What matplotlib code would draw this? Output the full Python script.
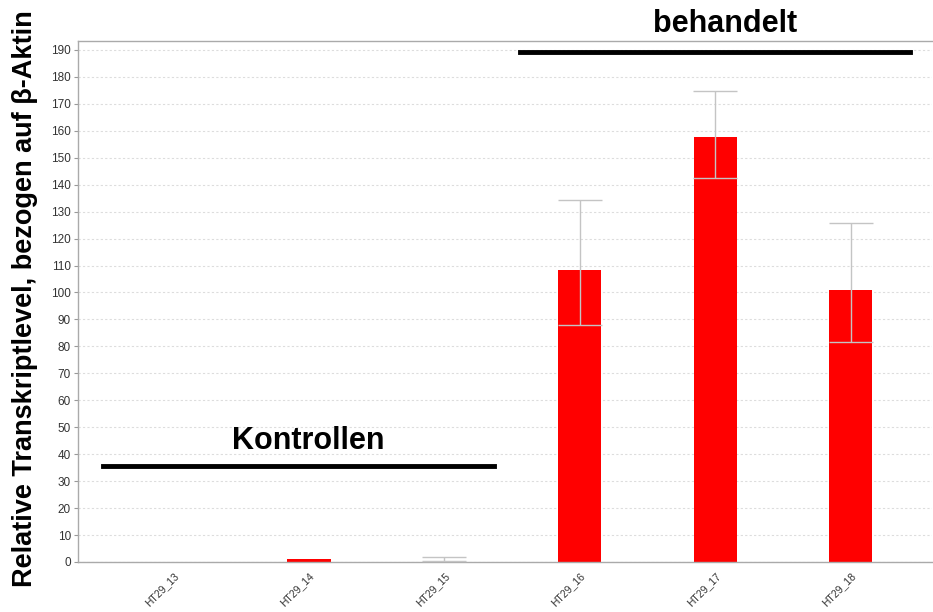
import matplotlib
matplotlib.use("Agg")
import matplotlib.pyplot as plt
import numpy as np

plt.rcParams['font.family'] = ['Liberation Sans', 'DejaVu Sans']

categories = ["HT29_13", "HT29_14", "HT29_15", "HT29_16", "HT29_17", "HT29_18"]
values = [0.0, 1.0, 0.5, 108.2, 157.8, 101.0]
err_low = [0.0, 0.0, 0.3, 20.4, 15.5, 19.4]
err_high = [0.0, 0.0, 1.2, 26.1, 17.0, 24.9]
bar_colors = ["#ff0000", "#ff0000", "#d8d8d8", "#ff0000", "#ff0000", "#ff0000"]
yticks = list(range(0, 200, 10))

fig = plt.figure(figsize=(9.33, 6.12), dpi=100)
ax = fig.add_axes([0.0836, 0.0817, 0.9153, 0.8513])

x = np.arange(len(categories))
ax.bar(x, values, width=0.32, color=bar_colors, edgecolor="none", zorder=2)
vals = np.array(values)
lo = np.array(err_low)
hi = np.array(err_high)
m = (lo + hi) > 0
ax.errorbar(x[m], vals[m], yerr=[lo[m], hi[m]], fmt="none", ecolor="#c4c4c4",
            elinewidth=1.0, capsize=15.5, capthick=1.0, zorder=3)

ax.set_xlim(-0.705, 5.6)
ax.set_ylim(0, 193.3)
ax.set_yticks(yticks)
ax.set_yticklabels([str(t) for t in yticks], fontsize=8.5, color="#333333")
ax.set_xticks(x)
ax.set_xticklabels(categories, rotation=45, ha="right", rotation_mode="anchor",
                   fontsize=7.5, color="#333333")
ax.tick_params(axis="y", length=3, color="#999999", pad=2)
ax.tick_params(axis="x", length=0, pad=6)
ax.yaxis.grid(True, linestyle=(0, (2, 2)), color="#dddddd", linewidth=0.8, zorder=0)
ax.set_axisbelow(True)
for s in ["left", "top", "bottom"]:
    ax.spines[s].set_color("#aaaaaa")
    ax.spines[s].set_linewidth(1.0)
ax.spines["right"].set_visible(False)

ax.set_ylabel("Relative Transkriptlevel, bezogen auf β-Aktin", fontsize=19.5,
              fontweight="bold")
ax.yaxis.set_label_coords(-0.047, 0.505)

ax.plot([-0.52, 2.365], [35.6, 35.6], color="black", linewidth=3.5, clip_on=False, zorder=4)
ax.text(0.993, 44.8, "Kontrollen", fontsize=22, fontweight="bold", ha="center",
        va="center", zorder=4)
ax.plot([2.557, 5.435], [189.3, 189.3], color="black", linewidth=3.5, clip_on=False, zorder=4)
ax.text(4.07, 199.5, "behandelt", fontsize=22, fontweight="bold", ha="center",
        va="center", clip_on=False, zorder=4)

fig.savefig("out.png", dpi=100)
